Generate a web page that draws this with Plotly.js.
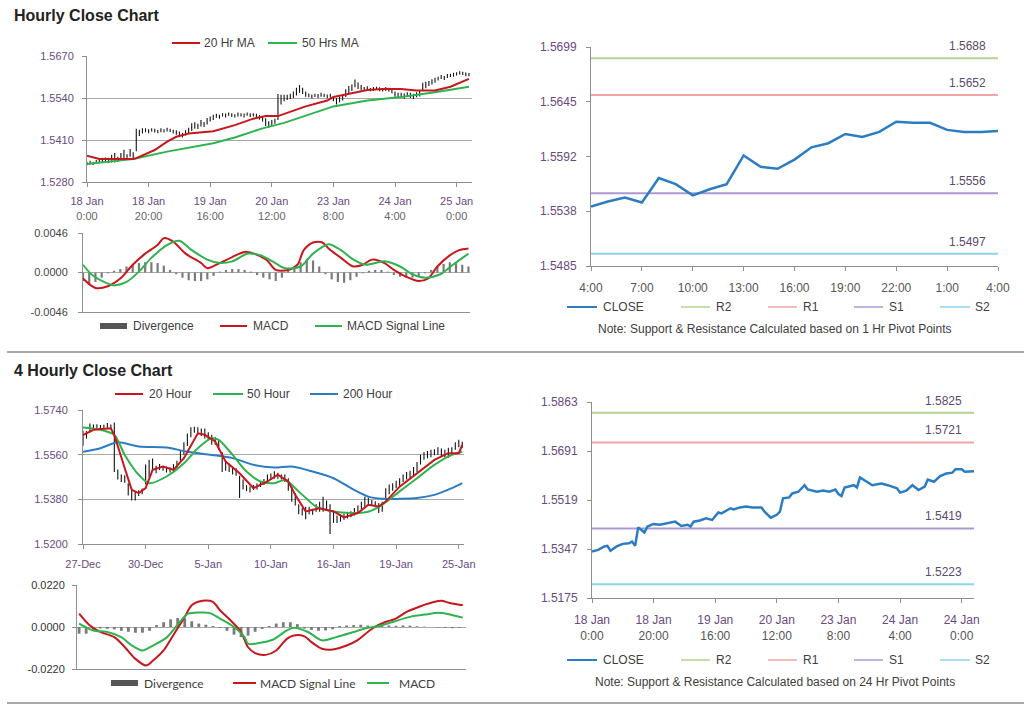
<!DOCTYPE html>
<html><head><meta charset="utf-8">
<script src="https://cdn.plot.ly/plotly-3.0.1.min.js"></script>
<style>html,body{margin:0;padding:0;background:#fff}#chart{width:1024px;height:706px}</style>
</head><body><div id="chart"></div>
<script>
// ===== Hourly close chart (top-left) =====
const hrTickPos = [0,20,40,60,80,100,120];
const hrTickDay = ['18 Jan','18 Jan','19 Jan','20 Jan','23 Jan','24 Jan','25 Jan'];
const hrTickTime = ['0:00','20:00','16:00','12:00','8:00','4:00','0:00'];
const hrMid = [1.5337,1.5340,1.5338,1.5342,1.5345,
1.5348,1.5350,1.5347,1.5352,1.5355,1.5350,
1.5360,1.5365,1.5358,1.5370,1.5362,
1.5410,
1.5432,1.5438,1.5440,1.5437,1.5441,1.5439,1.5436,1.5440,1.5438,1.5442,1.5440,1.5436,1.5433,
1.5428,1.5425,1.5432,1.5440,
1.5450,1.5455,1.5452,1.5462,1.5458,1.5468,1.5475,1.5480,
1.5485,1.5482,1.5488,1.5486,1.5490,1.5487,1.5485,1.5489,1.5488,1.5486,1.5490,1.5487,1.5488,1.5485,1.5480,1.5475,
1.5465,1.5458,1.5462,1.5468,
1.5512,
1.5535,1.5540,1.5542,1.5545,1.5550,1.5560,1.5568,
1.5562,1.5552,1.5548,1.5545,1.5548,1.5546,1.5550,1.5548,1.5545,1.5547,
1.5538,1.5530,1.5535,1.5542,
1.5555,1.5565,1.5572,1.5585,1.5578,
1.5572,1.5568,1.5570,1.5566,1.5568,1.5570,1.5567,1.5565,1.5568,1.5566,1.5562,
1.5552,1.5548,1.5550,1.5546,1.5552,1.5548,1.5545,1.5550,1.5555,
1.5575,1.5580,1.5585,1.5590,
1.5595,1.5600,1.5605,1.5602,1.5608,1.5610,1.5612,1.5615,
1.5618,1.5616,1.5613,1.5612];
const hrHalfPips = [5,6,5,6,5,7,6,8,12,15,8,10,15,8,12,10,
35,
10,8,6,6,5,6,5,6,5,6,5,6,7,
8,7,8,8,
12,10,8,10,8,10,8,8,
6,6,5,6,5,6,5,6,5,6,5,6,5,6,7,8,
12,10,10,8,
40,
15,10,8,8,10,12,12,
10,8,6,6,5,6,6,5,6,6,
8,10,8,10,
12,12,10,12,10,
8,6,6,5,6,5,6,5,6,6,7,
8,8,6,8,6,8,8,8,10,
12,10,8,8,
8,6,6,6,6,5,6,5,
5,5,6,5];
const hrMA20Hour = [0,4,15,16,22,26,29,33,41,48,54,58,62,66,71,78,80,84,91,96,102,107,113,118,124];
const hrMA20 = [1.5361,1.5351,1.5351,1.5354,1.5379,1.5405,1.5420,1.5430,1.5437,1.5456,1.5476,1.5484,1.5484,1.5497,1.5514,1.5532,1.5543,1.5551,1.5565,1.5568,1.5568,1.5563,1.5563,1.5575,1.5599];
const hrMA50Hour = [0,15,26,32,41,48,57,64,69,80,91,102,113,124];
const hrMA50 = [1.5336,1.5351,1.5374,1.5384,1.5400,1.5418,1.5446,1.5463,1.5479,1.5514,1.5532,1.5543,1.5558,1.5575];

// ===== Hourly MACD =====
const hrMacdHour = [0,4,8,12,16,20,24,26,29,33,38,40,44,48,52,55,59,62,66,69,71,74,77,79,83,87,90,93,97,100,104,108,111,114,118,121,124];
const hrMacd = [-0.0007,-0.0018,-0.0016,-0.0007,0.0009,0.0022,0.0032,0.0040,0.0036,0.0022,0.0011,0.0005,0.0011,0.0018,0.0024,0.0022,0.0015,0.0003,0.0003,0.0009,0.0026,0.0035,0.0035,0.0028,0.0017,0.0007,0.0009,0.0015,0.0011,0.0003,-0.0005,-0.0010,-0.0007,0.0007,0.0020,0.0026,0.0028];
const hrSignalHour = [0,3,8,10,14,18,22,27,31,35,40,44,48,53,57,61,65,70,74,79,83,87,91,97,102,106,110,115,119,124];
const hrSignal = [0.0009,-0.0003,-0.0013,-0.0015,-0.0011,0.0001,0.0017,0.0032,0.0037,0.0026,0.0015,0.0011,0.0013,0.0022,0.0020,0.0013,0.0005,0.0007,0.0022,0.0033,0.0026,0.0015,0.0009,0.0013,0.0007,-0.0002,-0.0006,-0.0002,0.0009,0.0022];
// divergence every 2 hours (hour 0,2,...,124)
const hrDiv = [-0.0010,-0.0013,-0.0011,-0.0006,-0.0001,0.0002,0.0004,0.0007,0.0009,0.0011,0.0012,0.0012,0.0011,0.0008,0.0003,-0.0002,-0.0006,-0.0009,-0.0010,-0.0010,-0.0008,-0.0004,0.0001,0.0003,0.0004,0.0004,0.0003,0.0001,-0.0003,-0.0006,-0.0008,-0.0010,-0.0006,0.0002,0.0007,0.0012,0.0016,0.0014,0.0007,-0.0002,-0.0008,-0.0011,-0.0012,-0.0009,-0.0005,-0.0001,0.0002,0.0003,0.0003,0.0001,-0.0003,-0.0005,-0.0006,-0.0006,-0.0004,-0.0001,0.0003,0.0007,0.0010,0.0012,0.0011,0.0009,0.0007];

// ===== Top-right: 1 Hr close with pivots =====
const trTickPos = [0,3,6,9,12,15,18,21,24];
const trTickText = ['4:00','7:00','10:00','13:00','16:00','19:00','22:00','1:00','4:00'];
const trClose = [1.5543,1.5548,1.5552,1.5547,1.5571,1.5565,1.5554,1.5560,1.5565,1.5593,1.5582,1.5580,1.5589,1.5601,1.5605,1.5614,1.5611,1.5616,1.5626,1.5625,1.5625,1.5618,1.5616,1.5616,1.5617];
const pivotNames = ['R2','R1','S1','S2'];
const pivotColors = ['#b3d38e','#f2a5a5','#ad98d4','#8ed4e8'];
const trPivots = [1.5688,1.5652,1.5556,1.5497];
const trYTicks = [1.5485,1.55385,1.5592,1.56455,1.5699];
const trYText = ['1.5485','1.5538','1.5592','1.5645','1.5699'];

// ===== 4 Hourly close chart (bottom-left) =====
const fxTickPos = [0,18,36,54,72,90,108];
const fxTickText = ['27-Dec','30-Dec','5-Jan','10-Jan','16-Jan','19-Jan','25-Jan'];
const fxMid = [1.5626,1.5640,
1.5668,1.5672,1.5675,1.5670,1.5673,1.5676,1.5672,
1.5590,
1.5480,1.5465,1.5462,
1.5420,1.5400,1.5395,
1.5405,1.5412,
1.5480,
1.5505,1.5520,1.5500,
1.5510,1.5505,1.5500,1.5498,1.5510,1.5520,
1.5555,1.5585,1.5620,
1.5650,1.5660,1.5655,1.5650,
1.5645,1.5635,1.5620,
1.5615,1.5600,
1.5530,1.5515,1.5505,
1.5495,1.5490,
1.5430,1.5440,
1.5425,1.5420,1.5428,1.5432,1.5440,1.5450,
1.5465,1.5472,1.5478,1.5475,1.5470,1.5465,
1.5440,
1.5400,1.5380,
1.5340,1.5330,1.5325,1.5335,1.5330,1.5345,1.5350,
1.5360,1.5355,1.5300,
1.5310,1.5300,1.5305,1.5310,1.5315,1.5320,
1.5330,1.5340,1.5355,
1.5370,1.5372,1.5365,1.5360,
1.5345,1.5350,
1.5400,1.5420,1.5430,1.5440,1.5450,
1.5465,1.5475,1.5480,1.5490,1.5510,
1.5540,1.5555,1.5560,1.5565,1.5570,
1.5575,1.5570,1.5565,1.5568,1.5575,
1.5595,1.5605,1.5600];
const fxHalfPips = [30,15,18,10,8,10,8,12,10,100,
20,15,15,25,25,20,12,12,40,35,
25,15,12,10,12,10,12,15,20,25,
25,20,12,15,15,20,15,20,15,20,
40,20,15,15,15,45,20,12,12,10,
12,10,12,15,12,15,12,10,15,25,
30,25,20,15,25,15,12,15,20,30,
20,60,25,15,15,12,12,12,15,15,
15,20,15,12,12,20,20,25,20,15,
15,15,15,15,15,20,20,20,15,15,
15,12,15,15,15,20,15,15,15,12];
const fxMA20Idx = [0,3,8,9,12,14,16,18,20,23,26,29,33,35,38,41,45,49,53,56,59,61,64,68,72,75,79,82,85,87,91,96,101,105,108,109];
const fxMA20 = [1.5639,1.5660,1.5666,1.5639,1.5505,1.5418,1.5405,1.5425,1.5499,1.5512,1.5499,1.5546,1.5646,1.5640,1.5613,1.5532,1.5485,1.5425,1.5452,1.5479,1.5452,1.5398,1.5331,1.5344,1.5331,1.5307,1.5325,1.5358,1.5351,1.5371,1.5431,1.5485,1.5539,1.5566,1.5566,1.5599];
const fxMA50Idx = [0,5,9,12,16,19,24,29,33,37,39,43,47,51,55,58,62,67,72,77,82,86,91,96,101,106,109];
const fxMA50 = [1.5669,1.5660,1.5639,1.5559,1.5479,1.5445,1.5472,1.5525,1.5586,1.5626,1.5620,1.5559,1.5492,1.5452,1.5445,1.5458,1.5412,1.5351,1.5331,1.5325,1.5330,1.5358,1.5412,1.5465,1.5519,1.5559,1.5572];
const fxMA200Idx = [0,5,10,16,24,30,37,43,49,55,60,66,72,77,82,86,91,96,101,106,109];
const fxMA200 = [1.5572,1.5586,1.5610,1.5593,1.5589,1.5572,1.5559,1.5546,1.5519,1.5508,1.5512,1.5492,1.5465,1.5425,1.5391,1.5382,1.5382,1.5385,1.5398,1.5425,1.5445];

// ===== 4 Hourly MACD =====
const fxSigIdx = [0,3,6,10,13,16,19,21,24,27,30,32,35,38,40,43,46,48,50,53,56,59,61,64,66,69,72,76,79,82,84,87,90,93,97,101,103,105,109];
const fxSig = [0.0070,0.0009,-0.0026,-0.0053,-0.0106,-0.0167,-0.0202,-0.0176,-0.0123,-0.0035,0.0053,0.0114,0.0137,0.0132,0.0088,0.0035,-0.0026,-0.0106,-0.0137,-0.0146,-0.0123,-0.0062,-0.0044,-0.0049,-0.0079,-0.0114,-0.0118,-0.0097,-0.0070,-0.0026,0.0000,0.0026,0.0044,0.0079,0.0109,0.0132,0.0137,0.0127,0.0114];
const fxMacdIdx = [0,4,8,12,15,18,21,25,29,31,34,37,40,44,47,48,51,55,59,61,65,69,73,78,82,85,89,94,99,102,105,109];
const fxMacd = [0.0018,-0.0018,-0.0026,-0.0053,-0.0097,-0.0123,-0.0097,-0.0053,0.0035,0.0070,0.0076,0.0074,0.0044,0.0000,-0.0053,-0.0088,-0.0084,-0.0067,-0.0018,-0.0004,-0.0026,-0.0070,-0.0053,-0.0026,-0.0004,0.0004,0.0026,0.0053,0.0067,0.0074,0.0067,0.0049];
// divergence every 2 bars (0,2,...,108)
const fxDiv = [-0.0035,-0.0035,-0.0015,-0.0008,-0.0010,-0.0012,-0.0020,-0.0025,-0.0030,-0.0030,-0.0020,0.0010,0.0025,0.0040,0.0047,0.0045,0.0030,0.0018,0.0012,0.0005,-0.0005,-0.0020,-0.0040,-0.0053,-0.0045,-0.0025,-0.0010,0.0005,0.0018,0.0025,0.0025,0.0015,-0.0008,-0.0015,-0.0020,-0.0018,-0.0012,0.0005,0.0008,0.0010,0.0012,0.0008,0.0006,0.0008,0.0008,0.0006,0.0008,0.0007,0.0004,0.0002,0.0000,-0.0003,-0.0005,-0.0006,-0.0005];

// ===== Bottom-right: 24 Hr pivots =====
const brTickPos = [0,20,40,60,80,100,120];
const brTickDay = ['18 Jan','18 Jan','19 Jan','20 Jan','23 Jan','24 Jan','24 Jan'];
const brTickTime = ['0:00','20:00','16:00','12:00','8:00','4:00','0:00'];
const brHour = [0,2,4,5,6,8,10,12,13,14,15,16,17,18,20,22,24,27,29,31,32,33,35,37,39,41,42,45,46,48,50,52,55,56,58,60,61,62,64,65,67,69,70,73,75,77,79,80,81,82,85,86,87,89,91,93,94,96,99,100,102,104,106,108,109,111,113,115,117,118,120,121,124];
const brClose = [1.5338,1.5344,1.5356,1.5358,1.5341,1.5356,1.5365,1.5367,1.5373,1.5358,1.5423,1.5414,1.5405,1.5426,1.5435,1.5432,1.5437,1.5443,1.5428,1.5432,1.5426,1.5443,1.5447,1.5455,1.5449,1.5475,1.5472,1.5490,1.5486,1.5493,1.5496,1.5493,1.5493,1.5478,1.5457,1.5467,1.5478,1.5525,1.5528,1.5542,1.5548,1.5571,1.5556,1.5548,1.5552,1.5548,1.5556,1.5540,1.5533,1.5563,1.5571,1.5563,1.5598,1.5583,1.5571,1.5575,1.5577,1.5571,1.5560,1.5545,1.5552,1.5571,1.5554,1.5566,1.5591,1.5583,1.5603,1.5612,1.5615,1.5627,1.5627,1.5618,1.5620];
const brPivots = [1.5825,1.5721,1.5419,1.5223];
const brYTicks = [1.5175,1.5347,1.5519,1.5691,1.5863];

// ===================== drawing =====================
const W = 1024, H = 706;
const FONT = 'Liberation Sans, Arial, sans-serif';
const RED = '#c8161d', GREEN = '#2fb34e', BLUE = '#2c7cc3', GRID = '#a9a9a9', AXIS = '#8f8f8f';
const PURPLE = '#6a4a7e', TXT = '#505050', DIVC = '#7a7a7a';
const dx = (a,b) => [a/W, b/W];
const dy = (top,bot) => [1-bot/H, 1-top/H];
const px = v => v/W, py = v => 1 - v/H;

function barSegments(mid, half, xa, ya){
  const X=[],Y=[];
  mid.forEach((m,i)=>{ X.push(i,i,null); Y.push(m-half[i]*1e-4, m+half[i]*1e-4, null); });
  return {type:'scatter',mode:'lines',x:X,y:Y,xaxis:xa,yaxis:ya,line:{color:'#111',width:1.1},hoverinfo:'skip'};
}
function line(x,y,xa,ya,color,width,shape){
  return {type:'scatter',mode:'lines',x:x,y:y,xaxis:xa,yaxis:ya,line:{color:color,width:width,shape:shape||'linear',smoothing:0.8},hoverinfo:'skip'};
}
const two = (d,t) => d.map((v,i)=>`<span style="color:${PURPLE}">${v}</span><br>${t[i]}`);
const hrDivX = hrDiv.map((_,i)=>i*2);
const fxDivX = fxDiv.map((_,i)=>i*2);
const trHours = trClose.map((_,i)=>i);

const traces = [];
// top-left price
traces.push(barSegments(hrMid, hrHalfPips, 'x', 'y'));
traces.push(line(hrMA50Hour, hrMA50, 'x','y', GREEN, 2));
traces.push(line(hrMA20Hour, hrMA20, 'x','y', RED, 2));
// top MACD
traces.push({type:'bar',x:hrDivX,y:hrDiv,xaxis:'x2',yaxis:'y2',width:0.7,marker:{color:DIVC,line:{width:0}},hoverinfo:'skip'});
traces.push(line(hrMacdHour, hrMacd, 'x2','y2', RED, 2, 'spline'));
traces.push(line(hrSignalHour, hrSignal, 'x2','y2', GREEN, 2, 'spline'));
// top-right
trPivots.forEach((v,i)=>traces.push(line([0,24],[v,v],'x3','y3',pivotColors[i],2)));
traces.push(line(trHours, trClose, 'x3','y3', BLUE, 2.5));
// bottom-left price
traces.push(barSegments(fxMid, fxHalfPips, 'x4', 'y4'));
traces.push(line(fxMA200Idx, fxMA200, 'x4','y4', BLUE, 2, 'spline'));
traces.push(line(fxMA50Idx, fxMA50, 'x4','y4', GREEN, 2, 'spline'));
traces.push(line(fxMA20Idx, fxMA20, 'x4','y4', RED, 2));
// bottom MACD
traces.push({type:'bar',x:fxDivX,y:fxDiv,xaxis:'x5',yaxis:'y5',width:0.8,marker:{color:DIVC,line:{width:0}},hoverinfo:'skip'});
traces.push(line(fxSigIdx, fxSig, 'x5','y5', RED, 2, 'spline'));
traces.push(line(fxMacdIdx, fxMacd, 'x5','y5', GREEN, 2, 'spline'));
// bottom-right
brPivots.forEach((v,i)=>traces.push(line([0,124],[v,v],'x6','y6',pivotColors[i],2)));
traces.push(line(brHour, brClose, 'x6','y6', BLUE, 2.5));

const tf = (c,s) => ({family:FONT,size:s||11,color:c||TXT});
const baseX = {showgrid:false,zeroline:false,showline:true,linecolor:AXIS,linewidth:1,ticks:'outside',ticklen:4,tickcolor:AXIS,tickmode:'array',fixedrange:true};
const baseY = {showgrid:true,gridcolor:GRID,gridwidth:1,zeroline:false,showline:true,linecolor:AXIS,linewidth:1,ticks:'outside',ticklen:4,tickcolor:AXIS,tickmode:'array',fixedrange:true};

const layout = {
  width:W,height:H,margin:{l:0,r:0,t:0,b:0},paper_bgcolor:'#fff',plot_bgcolor:'rgba(0,0,0,0)',showlegend:false,
  font:{family:FONT,color:TXT},
  xaxis: Object.assign({},baseX,{domain:dx(87,472),range:[0,125],anchor:'y',tickvals:hrTickPos,ticktext:two(hrTickDay,hrTickTime),tickfont:tf('#666',11),ticklabelstandoff:5}),
  yaxis: Object.assign({},baseY,{domain:dy(56,182),range:[1.528,1.567],anchor:'x',tickvals:[1.528,1.541,1.554,1.567],ticktext:['1.5280','1.5410','1.5540','1.5670'],tickfont:tf(PURPLE,11),ticklabelstandoff:6}),
  xaxis2: Object.assign({},baseX,{domain:dx(83,470),range:[0,124.5],anchor:'y2',ticks:'',showticklabels:false,tickvals:[]}),
  yaxis2: Object.assign({},baseY,{domain:dy(233,312),range:[-0.0046,0.0046],anchor:'x2',tickvals:[-0.0046,0,0.0046],ticktext:['-0.0046','0.0000','0.0046'],tickfont:tf('#444',11),ticklabelstandoff:8}),
  xaxis3: Object.assign({},baseX,{domain:dx(591,998),range:[0,24],anchor:'y3',tickvals:trTickPos,ticktext:trTickText,tickfont:tf('#555',12),ticklabelstandoff:7}),
  yaxis3: Object.assign({},baseY,{showgrid:false,domain:dy(47,266),range:[1.5485,1.5699],anchor:'x3',tickvals:trYTicks,ticktext:trYText,tickfont:tf(PURPLE,12),ticklabelstandoff:7}),
  xaxis4: Object.assign({},baseX,{domain:dx(83,464),range:[0,109.5],anchor:'y4',tickvals:fxTickPos,ticktext:fxTickText,tickfont:tf(PURPLE,11),ticklabelstandoff:6}),
  yaxis4: Object.assign({},baseY,{domain:dy(410,544),range:[1.52,1.574],anchor:'x4',tickvals:[1.52,1.538,1.556,1.574],ticktext:['1.5200','1.5380','1.5560','1.5740'],tickfont:tf(PURPLE,11),ticklabelstandoff:8}),
  xaxis5: Object.assign({},baseX,{domain:dx(77,466),range:[-0.6,109.9],anchor:'y5',ticks:'',showticklabels:false,tickvals:[]}),
  yaxis5: Object.assign({},baseY,{domain:dy(585,669),range:[-0.022,0.022],anchor:'x5',tickvals:[-0.022,0,0.022],ticktext:['-0.0220','0.0000','0.0220'],tickfont:tf('#333',11),ticklabelstandoff:5}),
  xaxis6: Object.assign({},baseX,{domain:dx(592,974),range:[0,124],anchor:'y6',tickvals:brTickPos,ticktext:two(brTickDay,brTickTime),tickfont:tf('#555',12),ticklabelstandoff:7}),
  yaxis6: Object.assign({},baseY,{showgrid:false,domain:dy(402,598),range:[1.5175,1.5863],anchor:'x6',tickvals:brYTicks,ticktext:brYTicks.map(v=>v.toFixed(4)),tickfont:tf(PURPLE,12),ticklabelstandoff:7}),
  shapes:[],annotations:[]
};

const S = layout.shapes, A = layout.annotations;
// separators
S.push({type:'line',xref:'paper',yref:'paper',x0:px(7),x1:px(1024),y0:py(352),y1:py(352),line:{color:'#a8a8a8',width:2}});
S.push({type:'line',xref:'paper',yref:'paper',x0:px(7),x1:px(1024),y0:py(703),y1:py(703),line:{color:'#a8a8a8',width:2}});
// titles
A.push({xref:'paper',yref:'paper',x:px(12),y:py(16),xanchor:'left',yanchor:'middle',showarrow:false,text:'<b>Hourly Close Chart</b>',font:{family:FONT,size:16,color:'#222'}});
A.push({xref:'paper',yref:'paper',x:px(12),y:py(370),xanchor:'left',yanchor:'middle',showarrow:false,text:'<b>4 Hourly Close Chart</b>',font:{family:FONT,size:16,color:'#222'}});

function legLine(x0,x1,y,color,w){S.push({type:'line',xref:'paper',yref:'paper',x0:px(x0),x1:px(x1),y0:py(y),y1:py(y),line:{color:color,width:w||2}});}
function legRect(x0,x1,y,color){S.push({type:'rect',xref:'paper',yref:'paper',x0:px(x0),x1:px(x1),y0:py(y-3),y1:py(y+3),fillcolor:color,line:{width:0}});}
function legText(x,y,t,size,fam){A.push({xref:'paper',yref:'paper',x:px(x),y:py(y),xanchor:'left',yanchor:'middle',showarrow:false,text:t,font:{family:fam||FONT,size:size||12,color:'#404040'}});}
function noteText(x,y,t){A.push({xref:'paper',yref:'paper',x:px(x),y:py(y),xanchor:'center',yanchor:'middle',showarrow:false,text:t,font:{family:FONT,size:12,color:'#404040'}});}

// top-left legends
legLine(172,200,43,RED); legText(202,43,'20 Hr MA');
legLine(268,297,43,GREEN); legText(300,43,'50 Hrs MA');
legRect(100,127,326,'#555'); legText(131,326,'Divergence');
legLine(220,247,326,RED); legText(251,326,'MACD');
legLine(315,342,326,GREEN); legText(345,326,'MACD Signal Line');
// top-right legend + note
const legX = [[567,597,601],[681,710,714],[768,797,801],[854,883,887],[940,970,973]];
const legNames = ['CLOSE'].concat(pivotNames);
const legCols = [BLUE].concat(pivotColors);
legX.forEach((p,i)=>{legLine(p[0],p[1],307,legCols[i],i?1.5:2); legText(p[2],307,legNames[i]);});
noteText(775,329,'Note: Support &amp; Resistance Calculated based on 1 Hr Pivot Points');
// pivot value labels
trPivots.forEach(v=>A.push({xref:'x3',yref:'y3',x:22.2,y:v,yshift:12,xanchor:'center',yanchor:'middle',showarrow:false,text:v.toFixed(4),font:{family:FONT,size:12,color:'#5b4b6b'}}));
brPivots.forEach(v=>A.push({xref:'x6',yref:'y6',x:114,y:v,yshift:12,xanchor:'center',yanchor:'middle',showarrow:false,text:v.toFixed(4),font:{family:FONT,size:12,color:'#5b4b6b'}}));
// bottom-left legends
legLine(115,143,394,RED); legText(147,394,'20 Hour');
legLine(213,243,394,GREEN); legText(245,394,'50 Hour');
legLine(310,338,394,BLUE); legText(341,394,'200 Hour');
legRect(111,138,683,'#555'); legText(142,683,'Divergence',12,'Lato, '+FONT);
legLine(233,256,683,RED); legText(258,683,'MACD Signal Line',12,'Lato, '+FONT);
legLine(367,389,683,GREEN); legText(397,683,'MACD',12,'Lato, '+FONT);
// bottom-right legend + note
legX.forEach((p,i)=>{legLine(p[0],p[1],660,legCols[i],i?1.5:2); legText(p[2],660,legNames[i]);});
noteText(775,682,'Note: Support &amp; Resistance Calculated based on 24 Hr Pivot Points');

Plotly.newPlot('chart', traces, layout, {staticPlot:true,displayModeBar:false});
</script>
</body></html>
